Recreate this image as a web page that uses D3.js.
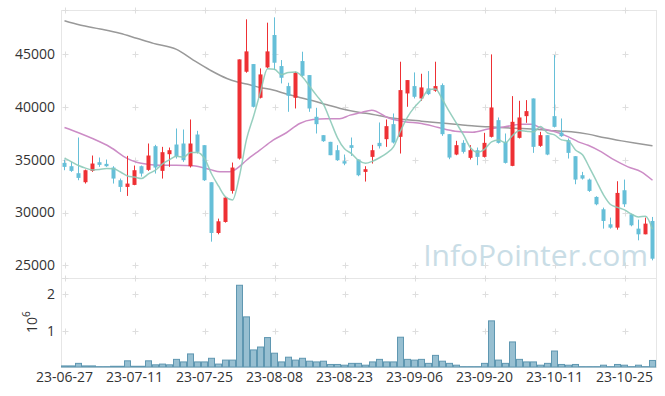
<!DOCTYPE html>
<html lang="en">
<head>
<meta charset="utf-8">
<title>Candlestick chart</title>
<script src="https://cdn.jsdelivr.net/npm/d3@7"></script>
<style>
body { margin: 0; background: #fff; }
svg text { font-family: "Open Sans", sans-serif; fill: #333; }
</style>
</head>
<body>
<script>
// trading days (yy-mm-dd)
var dates = ["23-06-27","23-06-28","23-06-29","23-06-30",
  "23-07-03","23-07-04","23-07-05","23-07-06","23-07-07","23-07-10","23-07-11","23-07-12","23-07-13","23-07-14",
  "23-07-17","23-07-18","23-07-19","23-07-20","23-07-21","23-07-24","23-07-25","23-07-26","23-07-27","23-07-28","23-07-31",
  "23-08-01","23-08-02","23-08-03","23-08-04","23-08-07","23-08-08","23-08-09","23-08-10","23-08-11","23-08-14",
  "23-08-16","23-08-17","23-08-18","23-08-21","23-08-22","23-08-23","23-08-24","23-08-25","23-08-28","23-08-29","23-08-30","23-08-31",
  "23-09-01","23-09-04","23-09-05","23-09-06","23-09-07","23-09-08","23-09-11","23-09-12","23-09-13","23-09-14","23-09-15",
  "23-09-18","23-09-19","23-09-20","23-09-21","23-09-22","23-09-25","23-09-26","23-09-27",
  "23-10-04","23-10-05","23-10-06","23-10-10","23-10-11","23-10-12","23-10-13","23-10-16","23-10-17","23-10-18","23-10-19","23-10-20",
  "23-10-23","23-10-24","23-10-25","23-10-26","23-10-27","23-10-30","23-10-31"];

var opens = [34698,34382,33719,32866,33940,34761,34604,34256,33055,32423,32613,34382,34035,36278,33940,35520,36436,36531,34382,37384,
  36373,32866,28062,29105,32044,35109,43325,44052,40860,43736,46801,43862,41966,40860,44336,43009,39059,37321,36689,35899,
  34856,36373,35014,33845,35267,36594,36942,38364,37163,41271,41966,40797,41745,41524,42061,37416,35488,36594,35172,35899,
  35267,37163,38743,36689,34414,37068,39122,40797,36310,37321,39122,37574,36847,35330,33529,33118,31475,30305,28884,28568,
  32107,29832,28473,27936,29200];
var highs = [35014,34793,37100,34066,35394,35205,35014,34382,33213,35362,34446,34446,36531,36405,36215,36152,37953,37858,38806,37732,
  36373,32866,29421,31475,34730,44494,48286,44052,43641,47970,48476,44431,42282,43325,45221,43009,39912,37321,36689,36373,
  35488,37100,35014,34382,36405,38522,38806,39375,44273,42535,43262,43135,43388,44273,42219,37416,36784,36847,36373,36152,
  37542,44968,38996,37479,41018,40576,40639,40797,37637,37321,44905,38901,37005,35330,33845,33213,31538,30464,29516,32960,
  33118,29895,29326,29516,29579];
var lows = [34003,33845,33055,32740,33845,34319,34319,32740,31949,31570,32582,33400,33940,33687,33213,34319,35109,34793,34256,35583,
  32992,27240,27936,29042,31791,35014,43230,39944,40797,43641,43483,42219,39533,39849,42851,39533,37479,36689,35425,34888,
  34477,35362,33434,32930,34635,36057,36215,36531,35583,40007,40797,40576,41113,41429,37258,35046,35425,35583,35014,34477,
  35204,37100,36531,34635,34382,37005,38490,35646,36215,35425,38048,37163,35109,32676,33118,31949,30684,28473,28473,28378,
  30526,28694,27367,27936,25471];
var closes = [34319,33940,33276,34003,34635,34509,34382,33213,32423,32740,34003,33687,35394,34256,35710,35899,35330,34951,36531,35741,
  33055,28062,29168,31412,34256,44494,45253,40007,43072,45253,44178,42756,41050,43230,42946,39849,38364,36752,35425,34951,
  34635,36120,33529,34098,35899,36278,38174,36626,41587,42535,40955,41840,41208,41966,37416,35204,36373,35741,35899,35267,
  36594,39944,36594,34698,38585,38996,39596,36215,37321,35488,38111,37226,35646,33118,33213,32044,30779,29200,28568,31854,
  30780,28789,27936,28947,25629];

// volume in millions of shares
var volumes = [0.03,0.03,0.10,0.03,0.03,0.01,0.01,0.02,0.02,0.17,0.02,0.02,0.17,0.06,0.08,0.06,0.21,0.14,0.36,0.14,
  0.14,0.24,0.08,0.19,0.19,2.25,1.38,0.47,0.55,0.81,0.38,0.14,0.27,0.19,0.24,0.16,0.14,0.16,0.07,0.07,
  0.05,0.10,0.10,0.05,0.14,0.21,0.14,0.14,0.82,0.21,0.19,0.21,0.10,0.32,0.16,0.10,0.05,0.01,0.01,0.01,
  0.10,1.27,0.19,0.10,0.69,0.21,0.14,0.14,0.05,0.10,0.44,0.07,0.05,0.07,0.01,0.01,0.01,0.05,0.01,0.07,
  0.05,0.01,0.05,0.01,0.18];

// 5-day moving average, one value per day
var ma5 = [35150,34800,34450,34200,34035,34073,34161,34148,33832,33453,33352,33213,33649,34016,34610,34989,35318,35229,35684,35690,
  35122,33668,32511,31488,31191,33478,36917,39084,41416,43616,43553,43053,43262,43293,42832,41966,41088,40228,38667,37068,
  36025,35577,34932,34667,34856,35185,35596,36215,37713,39040,39975,40709,41625,41701,40677,39527,38433,37340,36127,35697,
  35975,36689,36860,36619,37283,37763,37694,37618,38143,37523,37346,36872,36758,35918,35463,34249,32960,31671,30761,30487,
  30242,29844,29574,29650,28405];

// 20-day moving average, read at day positions
var ma20Day = [0,2,4,6.5,9,10.3,12,13.6,16,18.4,20.8,22.2,23.6,24.6,26,27.9,29.8,31.7,33.6,35.5,37.4,39.3,40.8,42.2,43.9,
  46.3,48.6,51,53.4,55.8,58.3,60.5,62.9,65.3,66.7,68.2,70.1,72,73.4,74.8,76.7,78.6,80.5,82.4,84];
var ma20Val = [38050,37550,37000,36200,35100,34750,34550,34480,34480,34420,34070,33850,33850,34150,34950,35900,36850,37550,38430,38800,38870,38870,39220,39440,39690,
  38950,38600,38430,38050,37700,37600,37900,38110,38360,38360,37950,37640,37160,36690,36370,35740,34950,34320,33850,33050];

// 60-day moving average, read at day positions
var ma60Day = [0,2.2,5.1,7.9,10.3,12.7,16,18.4,20.8,23.2,24.6,26,27.9,29.8,31.7,33.6,35.5,37.5,39.4,42.2,
  43.9,46.3,48.6,51,53.4,55.8,58.2,60.5,62.9,65.3,67.7,70.1,72.4,74.8,77.2,79.6,81.9,84];
var ma60Val = [48160,47750,47370,46960,46490,46010,45440,44430,43480,42690,42380,42160,41840,41590,41210,40890,40580,40200,39850,39470,
  39310,39000,38810,38650,38490,38360,38210,38110,38020,37950,37860,37730,37640,37420,37070,36780,36530,36310];

var priceTicks = [25000, 30000, 35000, 40000, 45000];
var volumeTicks = [1, 2];
var dateTicks = ["23-06-27","23-07-11","23-07-25","23-08-08","23-08-23","23-09-06","23-09-20","23-10-11","23-10-25"];

var width = 665, height = 396;
var plotLeft = 61, plotRight = 656, plotTop = 10, priceBottom = 278, volBottom = 367;

var svg = d3.select("body").append("svg")
    .attr("width", width)
    .attr("height", height);

var xScale = d3.scaleBand().domain(dates).range([plotLeft, plotRight]).padding(0);
var dayScale = d3.scaleLinear().domain([-0.5, dates.length - 0.5]).range([plotLeft, plotRight]);
var yScale = d3.scaleLinear().domain([23800, 49170]).range([priceBottom, plotTop]);
var vScale = d3.scaleLinear().domain([0, 2.45]).range([volBottom, priceBottom]);

function cx(d) { return xScale(d) + xScale.bandwidth() / 2; }

// frame
svg.append("rect")
    .attr("x", plotLeft + 0.5).attr("y", plotTop + 0.5)
    .attr("width", plotRight - plotLeft).attr("height", volBottom - plotTop)
    .attr("fill", "none").attr("stroke", "#e6e6e6");
svg.append("line")
    .attr("x1", plotLeft).attr("x2", plotRight)
    .attr("y1", priceBottom + 0.5).attr("y2", priceBottom + 0.5)
    .attr("stroke", "#e6e6e6");

// grid crosses
var crossY = priceTicks.map(yScale).concat(volumeTicks.map(vScale)).concat([plotTop, priceBottom]);
var crosses = [];
dateTicks.forEach(function(d) {
    crossY.forEach(function(y) { crosses.push([Math.round(cx(d)) + 0.5, Math.round(y) + 0.5]); });
});
svg.append("g").selectAll("path")
    .data(crosses)
    .enter().append("path")
    .attr("d", function(p) {
        return "M" + (p[0] - 3) + "," + p[1] + "h6M" + p[0] + "," + (p[1] - 3) + "v6";
    })
    .attr("stroke", "#dedede")
    .attr("stroke-width", 1);

// watermark
svg.append("text")
    .attr("x", 648).attr("y", 266)
    .attr("text-anchor", "end")
    .style("font-size", "30px")
    .style("fill", "#c9dde6")
    .text("InfoPointer.com");

// moving averages
var ma5Line = d3.line()
    .x(function(v, i) { return dayScale(i); })
    .y(function(v) { return yScale(v); })
    .curve(d3.curveMonotoneX);
var pairLine = d3.line()
    .x(function(p) { return dayScale(p[0]); })
    .y(function(p) { return yScale(p[1]); })
    .curve(d3.curveMonotoneX);

svg.append("path")
    .attr("d", pairLine(d3.zip(ma60Day, ma60Val)))
    .attr("fill", "none").attr("stroke", "#999").attr("stroke-width", 1.5);
svg.append("path")
    .attr("d", pairLine(d3.zip(ma20Day, ma20Val)))
    .attr("fill", "none").attr("stroke", "#cc8cc6").attr("stroke-width", 1.5);

// candles
var candles = dates.map(function(d, i) {
    return { date: d, open: opens[i], high: highs[i], low: lows[i], close: closes[i] };
});
var up = "#ee3034", down = "#66bfd8";
var g = svg.append("g");
g.selectAll("line.wick")
    .data(candles)
    .enter().append("line")
    .attr("class", "wick")
    .attr("x1", function(d) { return cx(d.date); })
    .attr("x2", function(d) { return cx(d.date); })
    .attr("y1", function(d) { return yScale(d.high); })
    .attr("y2", function(d) { return yScale(d.low); })
    .attr("stroke", function(d) { return d.close >= d.open ? up : down; })
    .attr("stroke-width", 1);
g.selectAll("rect.body")
    .data(candles)
    .enter().append("rect")
    .attr("class", "body")
    .attr("x", function(d) { return cx(d.date) - 2; })
    .attr("width", 4)
    .attr("y", function(d) { return yScale(Math.max(d.open, d.close)); })
    .attr("height", function(d) { return Math.max(1, Math.abs(yScale(d.open) - yScale(d.close))); })
    .attr("fill", function(d) { return d.close >= d.open ? up : down; });

svg.append("path")
    .attr("d", ma5Line(ma5))
    .attr("fill", "none").attr("stroke", "#8ccab8").attr("stroke-width", 1.5)
    .attr("opacity", 0.9);

// volume bars
svg.append("g").selectAll("rect")
    .data(volumes)
    .enter().append("rect")
    .attr("x", function(v, i) { return xScale(dates[i]) + 0.5; })
    .attr("width", xScale.bandwidth() - 1)
    .attr("y", function(v) { return vScale(v); })
    .attr("height", function(v) { return volBottom - vScale(v); })
    .attr("fill", "#97bfd1")
    .attr("stroke", "#5f97b1")
    .attr("stroke-width", 1);

// axes labels
var yAxis = d3.axisLeft(yScale).tickValues(priceTicks).tickSize(0).tickPadding(6)
    .tickFormat(d3.format("d"));
svg.append("g")
    .attr("transform", "translate(" + plotLeft + ",0)")
    .call(yAxis)
    .call(function(s) { s.select(".domain").remove(); })
    .selectAll("text").style("font-size", "14px").style("fill", "#333");

var vAxis = d3.axisLeft(vScale).tickValues(volumeTicks).tickSize(0).tickPadding(6)
    .tickFormat(d3.format("d"));
svg.append("g")
    .attr("transform", "translate(" + plotLeft + ",0)")
    .call(vAxis)
    .call(function(s) { s.select(".domain").remove(); })
    .selectAll("text").style("font-size", "14px").style("fill", "#333");

var xAxis = d3.axisBottom(xScale).tickValues(dateTicks).tickSize(0).tickPadding(5);
svg.append("g")
    .attr("transform", "translate(0," + volBottom + ")")
    .call(xAxis)
    .call(function(s) { s.select(".domain").remove(); })
    .selectAll("text").style("font-size", "14px").style("fill", "#333");

var unit = svg.append("text")
    .attr("transform", "translate(37,333) rotate(-90)")
    .style("font-size", "14px");
unit.append("tspan").text("10");
unit.append("tspan").attr("baseline-shift", "super").style("font-size", "10px").text("6");
</script>
</body>
</html>
